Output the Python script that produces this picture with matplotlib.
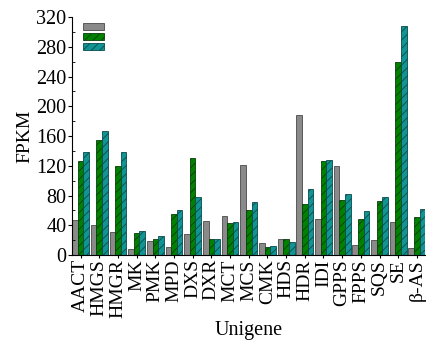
import matplotlib.pyplot as plt
import numpy as np

# data
genes = ['AACT', 'HMGS', 'HMGR', 'MK', 'PMK', 'MPD', 'DXS', 'DXR', 'MCT', 'MCS',
         'CMK', 'HDS', 'HDR', 'IDI', 'GPPS', 'FPPS', 'SQS', 'SE', 'β-AS']
s1 = [47, 41, 31, 8, 19, 11, 28, 46, 53, 121, 16, 21, 188, 49, 120, 13, 20, 45, 10]
s2 = [127, 155, 120, 30, 22, 55, 131, 22, 43, 60, 11, 21, 69, 126, 74, 49, 73, 259, 51]
s3 = [139, 167, 139, 33, 26, 61, 78, 22, 45, 71, 12, 17, 89, 128, 82, 59, 78, 308, 62]

plt.rcParams['font.family'] = ['Liberation Serif', 'DejaVu Serif']
plt.rcParams['hatch.linewidth'] = 0.6

fig = plt.figure(figsize=(4.27, 3.41), dpi=100)
ax = fig.add_axes([0.169, 0.252, 0.827, 0.698])

x = np.arange(len(genes))
w = 0.3
ax.bar(x - w, s1, w, color='#8a8a8a', edgecolor='#4a4a4a', linewidth=0.6, label=' ')
ax.bar(x, s2, w, color='#008200', edgecolor='#0b3d0b', linewidth=0.6, hatch='////', label=' ')
ax.bar(x + w, s3, w, color='#109494', edgecolor='#0b4a4a', linewidth=0.6, hatch='////', label=' ')

ax.set_xlim(-0.45, len(genes) - 0.55)
ax.set_ylim(0, 320)
ax.set_yticks(np.arange(0, 321, 40))
ax.set_yticks(np.arange(0, 321, 20), minor=True)
ax.set_xticks(x)
ax.set_xticklabels(genes, rotation=90, fontsize=14)
ax.tick_params(axis='y', labelsize=14.5, length=3, pad=1)
ax.tick_params(axis='y', which='minor', direction='in', length=2)
ax.tick_params(axis='x', length=2, pad=1)
ax.spines['top'].set_visible(False)
ax.spines['right'].set_visible(False)
ax.set_ylabel('FPKM', fontsize=14, labelpad=2)
ax.set_xlabel('Unigene', fontsize=14.5, labelpad=2)

ax.legend(loc='upper left', frameon=False, fontsize=6, handlelength=2.5, handleheight=0.85,
          labelspacing=0.22, borderpad=0, borderaxespad=0, bbox_to_anchor=(0.031, 0.975))

plt.savefig('out.png', dpi=100)
